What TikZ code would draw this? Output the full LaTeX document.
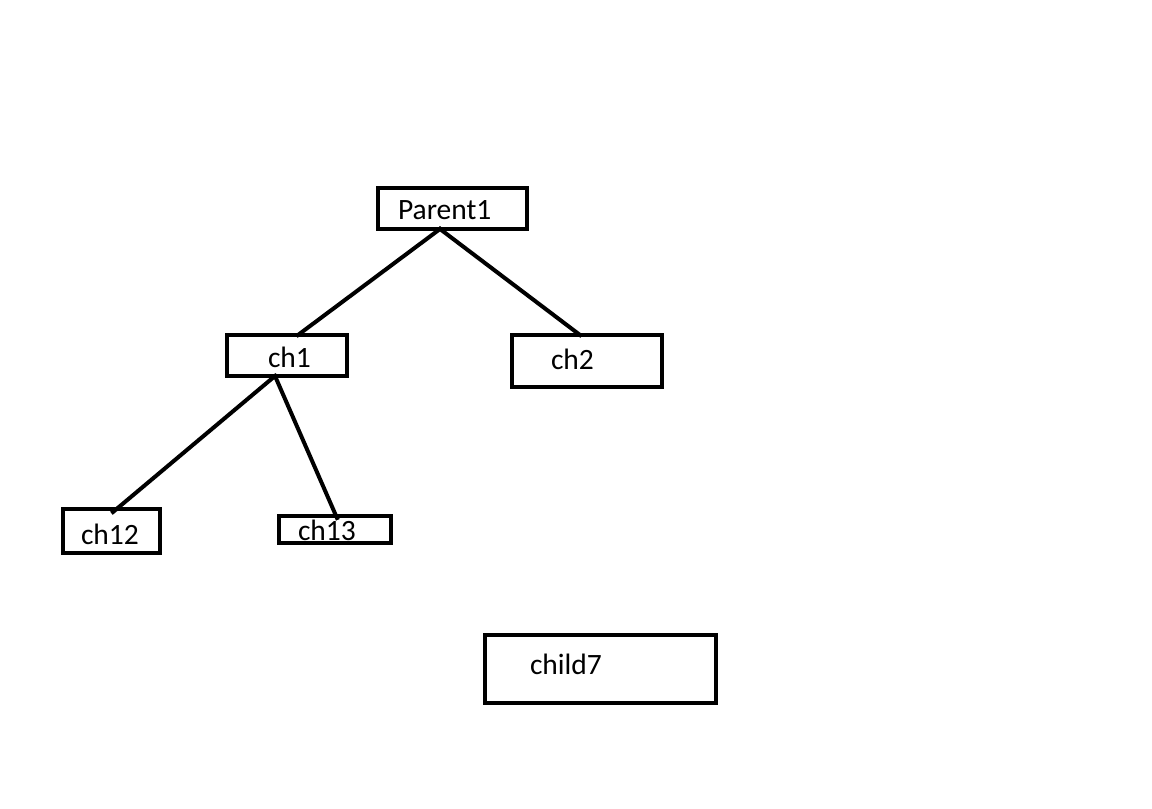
\documentclass[tikz,border=0pt]{standalone}
\usepackage{fontspec}
\setmainfont{Carlito}
\usepackage{tikz}
\tikzset{
	treebox/.style={draw=custcol_0_0_0, line width=4.0pt, rectangle, inner sep=0, outer sep=0},
	treelabel/.style={inner sep=0, outer sep=0, custcol_0_0_0, anchor=base west, font=\fontsize{29.5pt}{30pt}\selectfont},
	treeline/.style={line width=4.0pt, custcol_0_0_0}
}
\begin{document}
\begin{tikzpicture}[x=1pt,y=-1pt,line cap=rect]
						\definecolor{custcol_0_0_0}{RGB}{0, 0, 0}
						\definecolor{custcol_ff_ff_ff}{RGB}{255, 255, 255}
						\useasboundingbox [fill=custcol_ff_ff_ff] (0.0,0.0) rectangle (1152.0,809.0);
						\node[treebox, minimum width=149pt, minimum height=41pt] (parent1) at (452.5,208.5) {};
						\node[treebox, minimum width=120pt, minimum height=41pt] (ch1) at (287.0,355.5) {};
						\node[treebox, minimum width=150pt, minimum height=52pt] (ch2) at (587.0,361.0) {};
						\node[treebox, minimum width=97pt, minimum height=44pt] (ch12) at (111.5,531.0) {};
						\node[treebox, minimum width=112pt, minimum height=27pt] (ch13) at (335.0,529.5) {};
						\node[treebox, minimum width=231pt, minimum height=68pt] (child7) at (600.5,669.0) {};
						\node[treelabel] (parent1text) at (398.0,219.0) {Parent1};
						\node[treelabel] (ch1text) at (268.0,367.0) {ch1};
						\node[treelabel] (ch2text) at (551.0,369.0) {ch2};
						\node[treelabel] (ch12text) at (81.0,544.0) {ch12};
						\node[treelabel] (ch13text) at (298.0,540.0) {ch13};
						\node[treelabel] (child7text) at (530.0,674.0) {child7};
						\draw [treeline] ([xshift=-12.5]parent1.south) -- ([xshift=11]ch1.north);
						\draw [treeline] ([xshift=-12.5]parent1.south) -- ([xshift=-7]ch2.north);
						\draw [treeline] ([xshift=-12]ch1.south) -- ([xshift=1.5,yshift=-3]ch12.north);
						\draw [treeline] ([xshift=-12]ch1.south) -- ([xshift=2,yshift=-2]ch13.north);
						\end{tikzpicture}
\end{document}
